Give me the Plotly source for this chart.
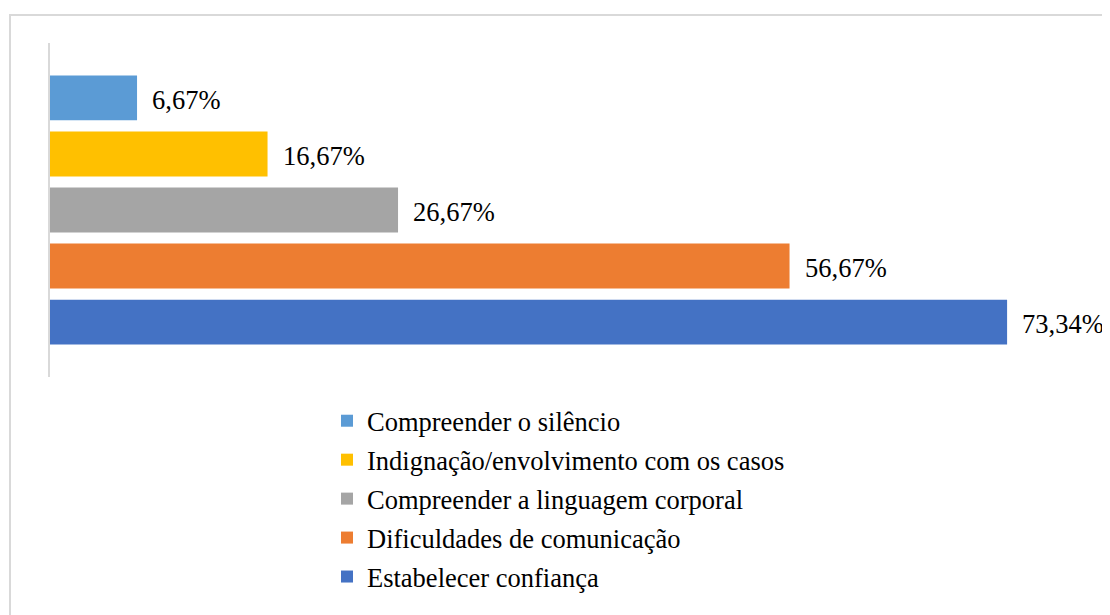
import plotly.graph_objects as go

categories = ["Compreender o silêncio", "Indignação/envolvimento com os casos",
              "Compreender a linguagem corporal", "Dificuldades de comunicação",
              "Estabelecer confiança"]
values = [6.67, 16.67, 26.67, 56.67, 73.34]
labels = ["6,67%", "16,67%", "26,67%", "56,67%", "73,34%"]
colors = ["#5B9BD5", "#FFC000", "#A5A5A5", "#ED7D31", "#4472C4"]

FONT = "Liberation Serif, Times New Roman, serif"
FS = 26.5

# page has an 8px body margin; work in figure pixels
PL, PT, PW, PH = 42, 35, 1044, 334

fig = go.Figure()
for i, (cat, v, lab, c) in enumerate(zip(categories, values, labels, colors)):
    fig.add_trace(go.Bar(
        x=[v], y=[i], orientation="h", name=cat, width=0.8,
        marker=dict(color=c, line=dict(width=0)),
        legendgroup=cat, hoverinfo="skip"))
    fig.add_annotation(x=v, y=i, text=lab, showarrow=False, xanchor="left",
                       xshift=13, yshift=-2, font=dict(family=FONT, size=FS, color="#000000"))

fig.update_layout(
    width=1102, height=607,
    margin=dict(l=PL, r=16, t=PT, b=607 - PT - PH),
    paper_bgcolor="white", plot_bgcolor="white",
    barmode="overlay",
    font=dict(family=FONT, size=FS, color="#000000"),
    xaxis=dict(range=[0, 80], showgrid=False, zeroline=False, showticklabels=False,
               showline=False, ticks=""),
    yaxis=dict(range=[4.98, -0.98], showgrid=False, zeroline=False, showticklabels=False,
               showline=True, linecolor="#D9D9D9", linewidth=2, ticks=""),
    legend=dict(x=277 / PW, y=-224 / PH,
                xanchor="left", yanchor="bottom", traceorder="grouped",
                tracegroupgap=1.5, font=dict(family=FONT, size=FS, color="#000000"),
                bgcolor="rgba(0,0,0,0)"),
    showlegend=True,
    shapes=[dict(type="rect", xref="paper", yref="paper",
                 x0=(2 - PL) / PW, x1=(1115 - PL) / PW,
                 y0=(PT + PH - 620) / PH, y1=(PT + PH - 7) / PH,
                 line=dict(color="#D9D9D9", width=2), fillcolor="rgba(0,0,0,0)", layer="below")],
)

fig.write_html("out.html")
